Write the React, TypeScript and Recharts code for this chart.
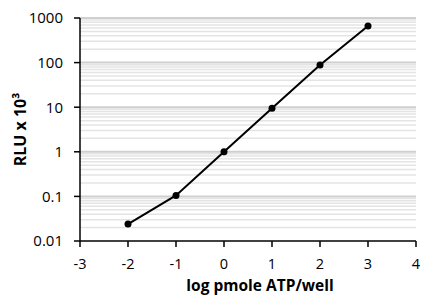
import React from 'react'
import {
    LineChart,
    Line,
    XAxis,
    YAxis,
    ReferenceLine,
    Label
} from 'recharts'

const logAtp = [-2, -1, 0, 1, 2, 3]
const rlu = [0.024, 0.105, 1, 9.5, 88, 660]

const xTicks = [-3, -2, -1, 0, 1, 2, 3, 4]
const yTicks = [0.01, 0.1, 1, 10, 100, 1000]
const decades = [0.01, 0.1, 1, 10, 100]
const minorSteps = [2, 3, 4, 5, 6, 7, 8, 9]

const font = '"Open Sans", Lato, sans-serif'

export default function App() {
    const data = logAtp.map((x, i) => ({ x, y: rlu[i] }))

    // minor log gridlines between decades
    const minorLines: number[] = []
    decades.forEach(d => minorSteps.forEach(m => minorLines.push(+(d * m).toPrecision(3))))

    return (
        <div style={{ position: 'absolute', left: 0, top: 0, background: '#fff' }}>
            <LineChart
                width={421}
                height={295}
                data={data}
                margin={{ top: 18, right: 5, bottom: 0, left: 0 }}
            >
                {minorLines.map(v => (
                    <ReferenceLine key={`m-${v}`} y={v} stroke="#e4e4e4" strokeWidth={1.5} />
                ))}
                {yTicks.slice(1).map(v => (
                    <ReferenceLine key={`M-${v}`} y={v} stroke="#cfcfcf" strokeWidth={2} />
                ))}
                <XAxis
                    dataKey="x"
                    type="number"
                    domain={[-3, 4]}
                    ticks={xTicks}
                    allowDataOverflow
                    height={54}
                    axisLine={{ stroke: '#000', strokeWidth: 1.5 }}
                    tickLine={{ stroke: '#000', strokeWidth: 1.5 }}
                    tickSize={6}
                    tickMargin={12}
                    tick={{ fill: '#000', fontSize: 14.5, fontFamily: font }}
                >
                    <Label
                        value="log pmole ATP/well"
                        position="insideBottom"
                        offset={4}
                        dx={12}
                        style={{ fill: '#000', fontSize: 15.5, fontWeight: 'bold', fontFamily: font }}
                    />
                </XAxis>
                <YAxis
                    dataKey="y"
                    type="number"
                    scale="log"
                    domain={[0.01, 1000]}
                    ticks={yTicks}
                    allowDataOverflow
                    width={80}
                    axisLine={{ stroke: '#000', strokeWidth: 1.5 }}
                    tickLine={{ stroke: '#000', strokeWidth: 1.5 }}
                    tickSize={6}
                    tickMargin={11}
                    tick={{ fill: '#000', fontSize: 15, fontFamily: font }}
                >
                    <Label
                        value="RLU x 10³"
                        angle={-90}
                        position="insideLeft"
                        offset={20}
                        style={{ fill: '#000', fontSize: 16, fontWeight: 'bold', fontFamily: font, textAnchor: 'middle' }}
                    />
                </YAxis>
                <Line
                    type="linear"
                    dataKey="y"
                    stroke="#000"
                    strokeWidth={2}
                    dot={{ r: 3.5, fill: '#000', stroke: '#000', strokeWidth: 0 }}
                    isAnimationActive={false}
                />
            </LineChart>
        </div>
    )
}
